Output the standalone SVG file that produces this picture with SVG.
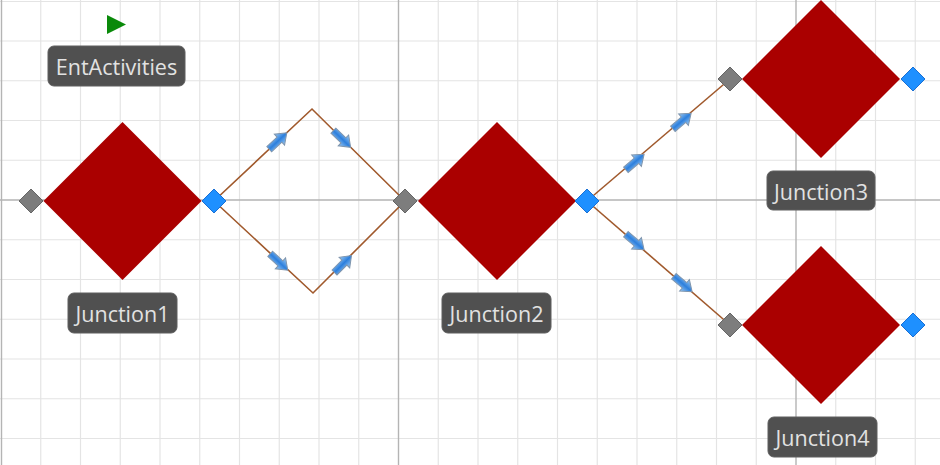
<svg xmlns="http://www.w3.org/2000/svg" width="940" height="465" viewBox="0 0 940 465">
<style>
.minor{stroke:#e4e4e4;stroke-width:1.2;fill:none}
.major{stroke:#b4b4b4;stroke-width:1.4;fill:none}
.conn{stroke:#a0592c;stroke-width:1.6;fill:none}
.big{fill:#aa0000}
.inport{fill:#7d7d7d;stroke:#666;stroke-width:1}
.outport{fill:#1e90ff;stroke:#1a70d4;stroke-width:1}
.lbl rect{fill:#505050;stroke:#5e5e5e;stroke-width:1}
.lbl text{font-family:"Open Sans","Noto Sans","DejaVu Sans",sans-serif;font-size:21.5px;fill:#e2e2e2;text-anchor:middle}
</style>
<defs>
<linearGradient id="ag" x1="0" y1="0" x2="0" y2="1">
<stop offset="0" stop-color="#9ccbf5"/>
<stop offset="0.5" stop-color="#2d7fdc"/>
<stop offset="1" stop-color="#9ccbf5"/>
</linearGradient>
<path id="arr" d="M-12,-3.5 L2,-3.5 L2,-7.5 L12,0 L2,7.5 L2,3.5 L-12,3.5 Z" fill="url(#ag)" stroke="#7f95ad" stroke-width="1"/>
</defs>
<rect width="940" height="465" fill="#ffffff"/>
<g id="grid">
<path class="minor" d="M40.75,0V465M80.5,0V465M120.25,0V465M160,0V465M199.75,0V465M239.5,0V465M279.25,0V465M319,0V465M358.75,0V465M438.25,0V465M478,0V465M517.75,0V465M557.5,0V465M597.25,0V465M637,0V465M676.75,0V465M716.5,0V465M756.25,0V465M835.75,0V465M875.5,0V465M915.25,0V465M0,1.5H940M0,41H940M0,80.75H940M0,120.5H940M0,160.25H940M0,239.75H940M0,279.5H940M0,319.25H940M0,359H940M0,398.75H940M0,438.5H940"/>
<path class="major" d="M1.5,0V465M398.5,0V465M796,0V465M0,200H940"/>
</g>
<g id="connectors">
<polyline class="conn" points="214,201 312,109 405,201"/>
<polyline class="conn" points="214,201 313,293 405,201"/>
<line class="conn" x1="587" y1="201" x2="730" y2="79"/>
<line class="conn" x1="587" y1="201" x2="730" y2="325"/>
<use href="#arr" transform="translate(278,141) rotate(-43)"/>
<use href="#arr" transform="translate(342,139) rotate(44)"/>
<use href="#arr" transform="translate(279,262) rotate(43)"/>
<use href="#arr" transform="translate(343,264) rotate(-45)"/>
<use href="#arr" transform="translate(635,162) rotate(-40.5)"/>
<use href="#arr" transform="translate(682,121) rotate(-40.5)"/>
<use href="#arr" transform="translate(635,242) rotate(40.7)"/>
<use href="#arr" transform="translate(683,284) rotate(40.7)"/>
</g>
<g id="EntActivities">
<polygon points="107,15 126,24.5 107,34" fill="#0a8a0a"/>
<g class="lbl"><rect x="48" y="46" width="137" height="40" rx="6"/><text x="116.5" y="75">EntActivities</text></g>
</g>
<g id="Junction1">
<polygon class="big" points="122.5,122 201.5,201 122.5,280 43.5,201"/>
<polygon class="inport" points="31,189 43,201 31,213 19,201"/>
<polygon class="outport" points="214,189 226,201 214,213 202,201"/>
<g class="lbl"><rect x="68" y="293" width="109" height="40" rx="6"/><text x="122.5" y="322">Junction1</text></g>
</g>
<g id="Junction2">
<polygon class="big" points="497,122 576,201 497,280 418,201"/>
<polygon class="inport" points="405,189 417,201 405,213 393,201"/>
<polygon class="outport" points="587,189 599,201 587,213 575,201"/>
<g class="lbl"><rect x="442" y="293" width="109" height="40" rx="6"/><text x="496.5" y="322">Junction2</text></g>
</g>
<g id="Junction3">
<polygon class="big" points="821,0 900,79 821,158 742,79"/>
<polygon class="inport" points="730,67 742,79 730,91 718,79"/>
<polygon class="outport" points="913,67 925,79 913,91 901,79"/>
<g class="lbl"><rect x="767" y="171" width="108" height="39" rx="6"/><text x="821" y="199.5">Junction3</text></g>
</g>
<g id="Junction4">
<polygon class="big" points="821,246 900,325 821,404 742,325"/>
<polygon class="inport" points="730,313 742,325 730,337 718,325"/>
<polygon class="outport" points="913,313 925,325 913,337 901,325"/>
<g class="lbl"><rect x="768" y="417" width="109" height="40" rx="6"/><text x="822.5" y="446">Junction4</text></g>
</g>
</svg>
